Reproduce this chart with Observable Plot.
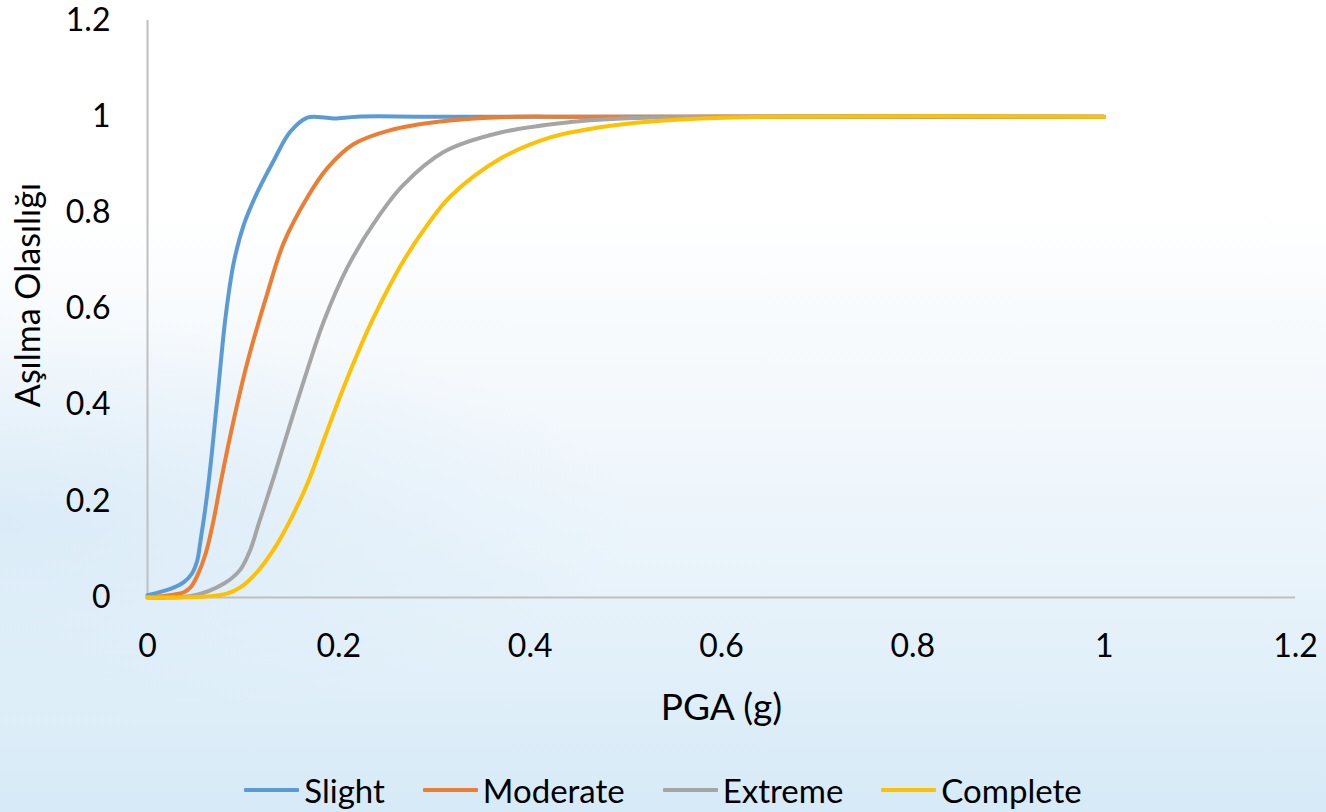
<!DOCTYPE html>
<html>
<head>
<meta charset="utf-8">
<script src="https://cdn.jsdelivr.net/npm/d3@7"></script>
<script src="https://cdn.jsdelivr.net/npm/@observablehq/plot@0.6"></script>
<style>
  html, body { margin: 0; padding: 0; width: 1326px; height: 812px; overflow: hidden; }
  body {
    font-family: Lato, "Open Sans", sans-serif;
    background:
      radial-gradient(ellipse 900px 300px at 0px 520px, rgba(205,228,245,0.55), rgba(205,228,245,0) 70%),
      linear-gradient(to bottom, #ffffff 0%, #ffffff 26%, #f8fbfd 38%, #f1f7fc 55%, #e6f2fa 75%, #d6eaf7 100%);
  }
  #chart svg { display: block; }
  #legend {
    display: flex; justify-content: center; align-items: center;
    height: 44px; padding-top: 8px; gap: 38px;
    font-size: 33px; color: #000; padding-left: 0px;
  }
  .item { display: flex; align-items: center; }
  .swatch { width: 55px; height: 4px; margin-right: 5px; border-radius: 1px; }
</style>
</head>
<body>
<div id="chart"></div>
<div id="legend"></div>
<script>
// Series names and colours
const seriesNames = ["Slight", "Moderate", "Extreme", "Complete"];
const seriesColors = ["#5b9bd5", "#ed7d31", "#a5a5a5", "#ffc000"];

// [PGA (g), probability of exceedance]
const slight = [[0,0.005],[0.024,0.018],[0.038,0.032],[0.0465,0.05],[0.052,0.077],[0.0554,0.118],[0.059,0.165],[0.0624,0.215],[0.0675,0.305],[0.0745,0.445],[0.0815,0.582],[0.09,0.695],[0.1006,0.775],[0.1146,0.842],[0.132,0.909],[0.149,0.968],[0.167,0.998],[0.182,0.999],[0.195,0.996],[0.219,1.0],[0.3,1.0],[1.0,1.0]];
const moderate = [[0,0],[0.0275,0.006],[0.038,0.011],[0.045,0.021],[0.052,0.045],[0.0606,0.09],[0.069,0.16],[0.0763,0.237],[0.09,0.368],[0.104,0.486],[0.125,0.631],[0.1425,0.738],[0.167,0.832],[0.188,0.893],[0.2156,0.943],[0.254,0.972],[0.306,0.99],[0.369,0.999],[0.45,1.0],[1.0,1.0]];
const extreme = [[0,0],[0.048,0.004],[0.08,0.029],[0.097,0.058],[0.1076,0.1],[0.116,0.152],[0.132,0.25],[0.149,0.36],[0.167,0.473],[0.184,0.573],[0.2086,0.685],[0.2365,0.778],[0.267,0.857],[0.31,0.927],[0.369,0.967],[0.4385,0.988],[0.508,0.997],[0.578,1.0],[1.0,1.0]];
const complete = [[0,0],[0.062,0.002],[0.083,0.008],[0.097,0.021],[0.1146,0.053],[0.132,0.1],[0.149,0.16],[0.167,0.236],[0.184,0.326],[0.2017,0.42],[0.219,0.505],[0.2365,0.583],[0.264,0.688],[0.289,0.765],[0.317,0.835],[0.369,0.913],[0.421,0.957],[0.473,0.978],[0.526,0.99],[0.578,0.996],[0.65,1.0],[1.0,1.0]];

// Axis ticks and titles
const xTicks = [0, 0.2, 0.4, 0.6, 0.8, 1, 1.2];
const yTicks = [0, 0.2, 0.4, 0.6, 0.8, 1, 1.2];
const xTitle = "PGA (g)";
const yTitle = "Aşılma Olasılığı";

const seriesData = [slight, moderate, extreme, complete];
const rows = seriesData.flatMap((arr, i) => arr.map(([x, y]) => ({series: seriesNames[i], x, y})));

const fmt = d3.format("~g");

const plot = Plot.plot({
  width: 1326,
  height: 760,
  marginLeft: 147,
  marginRight: 31,
  marginTop: 20,
  marginBottom: 163,
  style: {fontFamily: "Lato, 'Open Sans', sans-serif", fontSize: "32px", color: "#000", background: "transparent", overflow: "visible"},
  x: {domain: [0, 1.2]},
  y: {domain: [0, 1.2]},
  color: {domain: seriesNames, range: seriesColors},
  marks: [
    Plot.axisX({ticks: xTicks, tickFormat: fmt, tickSize: 0, tickPadding: 37, label: xTitle, labelArrow: "none", labelAnchor: "center", labelOffset: 122}),
    Plot.axisY({ticks: yTicks, tickFormat: fmt, tickSize: 0, tickPadding: 37, label: yTitle, labelArrow: "none", labelAnchor: "center", labelOffset: 132}),
    Plot.ruleY([0], {stroke: "#bfbfbf", strokeWidth: 2}),
    Plot.ruleX([0], {stroke: "#bfbfbf", strokeWidth: 2}),
    Plot.line(rows, {x: "x", y: "y", z: "series", stroke: "series", strokeWidth: 4, curve: "catmull-rom", strokeLinejoin: "round", strokeLinecap: "round"})
  ]
});

// Title sizes; strip any arrow glyphs
const xl = plot.querySelector('[aria-label="x-axis label"]');
if (xl) { xl.setAttribute("font-size", "37"); xl.querySelectorAll("text").forEach(t => t.textContent = xTitle); }
const yl = plot.querySelector('[aria-label="y-axis label"]');
if (yl) {
  yl.setAttribute("font-size", "34");
  yl.querySelectorAll("text").forEach(t => t.textContent = yTitle);
  const tr = yl.getAttribute("transform") || "";
  yl.setAttribute("transform", "translate(0,-14) " + tr);
}

document.getElementById("chart").appendChild(plot);

const legend = document.getElementById("legend");
seriesNames.forEach((name, i) => {
  const item = document.createElement("div");
  item.className = "item";
  const sw = document.createElement("div");
  sw.className = "swatch";
  sw.style.background = seriesColors[i];
  const label = document.createElement("span");
  label.textContent = name;
  item.appendChild(sw);
  item.appendChild(label);
  legend.appendChild(item);
});
</script>
</body>
</html>
